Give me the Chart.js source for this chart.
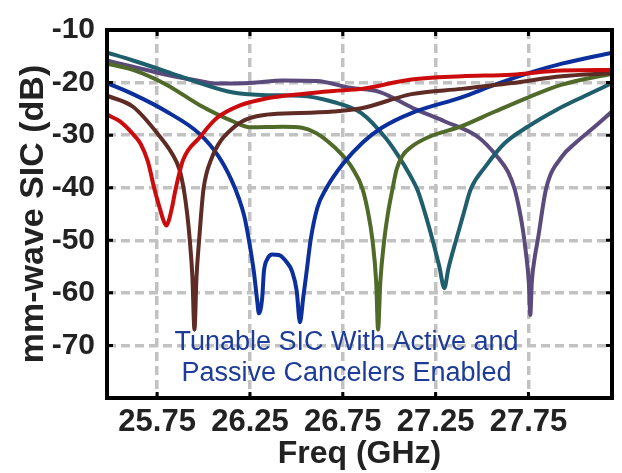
<!DOCTYPE html>
<html><head><meta charset="utf-8">
<script src="https://cdn.jsdelivr.net/npm/chart.js@4.4.1/dist/chart.umd.min.js"></script>
<style>html,body{margin:0;padding:0;background:#fff;}#wrap{width:622px;height:473px;}</style>
</head><body><div id="wrap"><canvas id="c" width="622" height="473"></canvas></div>
<script>
const xTicks = [25.75, 26.25, 26.75, 27.25, 27.75];
const yTicks = [-70, -60, -50, -40, -30, -20, -10];
const xTitle = 'Freq (GHz)';
const yTitle = 'mm-wave SIC (dB)';
const noteLines = ['Tunable SIC With Active and', 'Passive Cancelers Enabled'];

const redFreq = [25.48,25.55,25.62,25.66,25.70,25.735,25.765,25.785,25.80,25.815,25.83,25.85,25.89,25.98,26.07,26.20,26.34,26.52,26.70,26.85,27.12,27.39,27.66,27.93,28.2];
const redSic  = [-26.1,-27.4,-29.8,-31.6,-35.0,-40.2,-44.0,-46.3,-47.2,-46.0,-43.8,-40.2,-34.7,-30.4,-26.8,-24.3,-23.0,-22.2,-21.6,-21.2,-19.4,-18.8,-18.5,-17.7,-17.6];

const brownFreq = [25.48,25.62,25.77,25.83,25.87,25.893,25.912,25.926,25.94,25.951,25.962,25.976,25.987,26.00,26.04,26.16,26.34,26.52,26.70,26.85,27.12,27.39,27.66,27.93,28.2];
const brownSic  = [-22.5,-24.6,-30.5,-33.5,-36.5,-40.2,-45.0,-50.0,-57.0,-67.0,-57.0,-50.0,-45.0,-40.2,-34.7,-28.6,-26.1,-25.8,-25.5,-24.9,-22.2,-21.2,-20.1,-18.8,-18.2];

const blueFreq = [25.48,25.62,25.80,25.98,26.08,26.15,26.19,26.22,26.244,26.271,26.289,26.298,26.316,26.325,26.343,26.37,26.406,26.442,26.478,26.502,26.519,26.537,26.555,26.577,26.613,26.66,26.75,26.86,26.96,27.12,27.39,27.57,27.75,27.93,28.2];
const blueSic  = [-20.1,-22.2,-25.5,-29.8,-34.0,-38.5,-42.0,-45.5,-49.9,-56.0,-61.5,-63.9,-60.9,-56.0,-53.6,-52.7,-52.8,-53.9,-56.0,-59.7,-65.6,-60.9,-56.0,-49.9,-43.8,-40.2,-35.5,-31.3,-28.6,-25.8,-22.8,-20.4,-18.2,-16.4,-14.3];

const oliveFreq = [25.48,25.62,25.80,25.98,26.16,26.25,26.43,26.53,26.60,26.67,26.74,26.80,26.856,26.885,26.91,26.93,26.94,26.952,26.973,26.995,27.018,27.04,27.07,27.12,27.21,27.39,27.57,27.75,27.93,28.2];
const oliveSic  = [-16.4,-17.6,-20.4,-24.3,-27.4,-28.5,-28.4,-28.6,-29.5,-31.2,-33.5,-36.2,-40.2,-44.5,-50.0,-58.0,-67.0,-58.0,-50.0,-44.5,-40.2,-36.5,-34.0,-32.2,-30.4,-28.3,-25.5,-22.8,-20.4,-18.3];

const tealFreq = [25.48,25.62,25.80,25.98,26.16,26.34,26.52,26.70,26.85,26.98,27.05,27.11,27.153,27.19,27.234,27.27,27.297,27.318,27.36,27.40,27.44,27.52,27.62,27.75,27.90,28.05,28.2];
const tealSic  = [-14.3,-15.8,-17.9,-20.1,-21.9,-22.4,-22.5,-23.7,-25.8,-30.5,-34.0,-37.5,-40.5,-44.5,-50.0,-55.0,-59.1,-55.5,-50.0,-45.0,-40.2,-35.9,-31.6,-28.3,-25.2,-22.6,-20.1];

const purpleFreq = [25.48,25.62,25.80,25.98,26.07,26.25,26.43,26.61,26.79,26.95,27.13,27.30,27.48,27.58,27.64,27.675,27.70,27.72,27.735,27.752,27.76,27.768,27.785,27.80,27.845,27.93,28.0,28.1,28.2];
const purpleSic  = [-15.8,-17.0,-18.5,-19.7,-20.2,-20.1,-19.6,-19.7,-21.0,-21.8,-24.9,-27.4,-30.4,-34.0,-37.0,-40.2,-44.0,-48.0,-52.0,-58.0,-64.2,-58.0,-53.0,-50.0,-40.2,-34.1,-31.6,-28.6,-25.5];

const series = [
  {name:'red', freq: redFreq, sic: redSic, color:'#cc0c0c'},
  {name:'brown', freq: brownFreq, sic: brownSic, color:'#5e2b25'},
  {name:'blue', freq: blueFreq, sic: blueSic, color:'#0b2f9c'},
  {name:'olive', freq: oliveFreq, sic: oliveSic, color:'#4f6a29'},
  {name:'teal', freq: tealFreq, sic: tealSic, color:'#1f5e6c'},
  {name:'purple', freq: purpleFreq, sic: purpleSic, color:'#5b4a7c'}
];

const FONT = "'Liberation Sans', Arial, Helvetica, sans-serif";

const frameAndNote = {
  id: 'frameAndNote',
  afterDatasetsDraw(chart) {
    const {ctx, chartArea: a, scales: {x, y}} = chart;
    ctx.save();
    ctx.fillStyle = '#1d3b98';
    ctx.font = '27px ' + FONT;
    ctx.textAlign = 'center';
    ctx.textBaseline = 'middle';
    const cx = x.getPixelForValue(26.77);
    ctx.fillText(noteLines[0], cx, y.getPixelForValue(-69.4));
    ctx.fillText(noteLines[1], cx, y.getPixelForValue(-75.3));
    ctx.strokeStyle = '#000';
    ctx.lineWidth = 3;
    const tl = 6;
    xTicks.forEach(v => {
      const px = x.getPixelForValue(v);
      ctx.beginPath();
      ctx.moveTo(px, a.bottom); ctx.lineTo(px, a.bottom - tl);
      ctx.moveTo(px, a.top); ctx.lineTo(px, a.top + tl);
      ctx.stroke();
    });
    yTicks.forEach(v => {
      const py = y.getPixelForValue(v);
      ctx.beginPath();
      ctx.moveTo(a.left, py); ctx.lineTo(a.left + tl, py);
      ctx.moveTo(a.right, py); ctx.lineTo(a.right - tl, py);
      ctx.stroke();
    });
    ctx.lineWidth = 4;
    ctx.strokeRect(a.left, a.top, a.right - a.left, a.bottom - a.top);
    ctx.restore();
  }
};

new Chart(document.getElementById('c'), {
  type: 'line',
  data: {
    datasets: series.map(s => ({
      label: s.name,
      data: s.freq.map((f, i) => ({x: f, y: s.sic[i]})),
      borderColor: s.color,
      backgroundColor: s.color,
      borderWidth: 4,
      pointRadius: 0,
      cubicInterpolationMode: 'monotone',
      fill: false
    }))
  },
  options: {
    responsive: false,
    animation: false,
    devicePixelRatio: 1,
    layout: {padding: {left: 0, top: 15, right: 10, bottom: 0}},
    plugins: {legend: {display: false}, tooltip: {enabled: false}},
    scales: {
      x: {
        type: 'linear', min: 25.48, max: 28.2,
        afterBuildTicks: sc => { sc.ticks = xTicks.map(v => ({value: v})); },
        afterFit: sc => { sc.height = 75; },
        grid: {color: '#c2c2c2', lineWidth: 3.5, drawTicks: false},
        border: {display: false, dash: [9, 5]},
        ticks: {
          padding: 6, color: '#222',
          font: {family: FONT, size: 31, weight: 'bold', lineHeight: 1.2},
          callback: v => v.toFixed(2), maxRotation: 0, autoSkip: false
        },
        title: {display: true, text: xTitle, color: '#222', padding: {top: 0, bottom: 0},
          font: {family: FONT, size: 32, weight: 'bold', lineHeight: 1.2}}
      },
      y: {
        type: 'linear', min: -80, max: -10,
        afterBuildTicks: sc => { sc.ticks = yTicks.map(v => ({value: v})); },
        afterFit: sc => { sc.width = 107; },
        grid: {color: '#c2c2c2', lineWidth: 3.5, drawTicks: false},
        border: {display: false, dash: [9, 5]},
        ticks: {
          padding: 12, color: '#222',
          font: {family: FONT, size: 30, weight: 'bold', lineHeight: 1.2},
          callback: v => String(v), autoSkip: false
        },
        title: {display: true, text: yTitle, color: '#222', padding: {top: 13, bottom: 0},
          font: {family: FONT, size: 34, weight: 'bold', lineHeight: 1.2}}
      }
    }
  },
  plugins: [frameAndNote]
});
</script>
</body></html>
